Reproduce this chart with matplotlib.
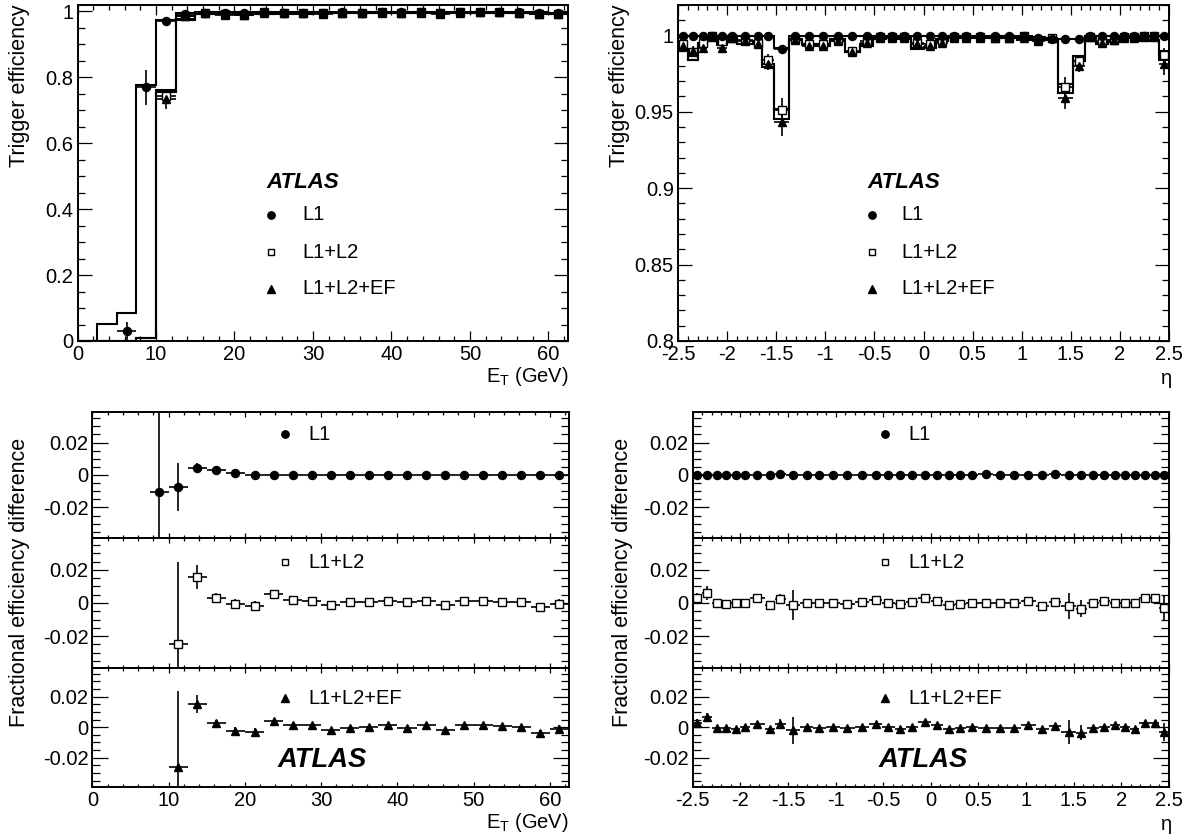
import numpy as np
import matplotlib
matplotlib.use('Agg')
import matplotlib.pyplot as plt
from matplotlib.ticker import MultipleLocator, FuncFormatter
from matplotlib.lines import Line2D

plt.rcParams['font.family'] = ['Liberation Sans', 'DejaVu Sans']
plt.rcParams['axes.unicode_minus'] = False
plt.rcParams['mathtext.fontset'] = 'custom'
plt.rcParams['mathtext.rm'] = 'Liberation Sans'
plt.rcParams['mathtext.it'] = 'Liberation Sans:italic'

# ---------------- data: E_T ----------------
et_edges = [0, 2.5, 5, 7.5, 10, 12.5, 15, 17.5, 20, 22.5, 25, 27.5, 30, 32.5, 35,
            37.5, 40, 42.5, 45, 47.5, 50, 52.5, 55, 57.5, 60, 62.5]
nan = np.nan
et_l1 = [nan, nan, 0.030, 0.769, 0.971, 0.993, 0.996, 0.995, 0.995, 0.997, 0.996, 0.996,
         0.995, 0.997, 0.996, 0.997, 0.997, 0.997, 0.996, 0.997, 0.998, 0.998, 0.997, 0.996, 0.994]
et_l1_err = [nan, nan, 0.027, 0.053, 0.012, 0.004, 0.002, 0.0015, 0.0015, 0.001, 0.001, 0.001,
             0.001, 0.001, 0.001, 0.001, 0.001, 0.001, 0.001, 0.001, 0.001, 0.001, 0.001, 0.0015, 0.002]
et_l12 = [nan, nan, nan, nan, 0.742, 0.987, 0.996, 0.991, 0.990, 0.997, 0.996, 0.996,
          0.994, 0.996, 0.996, 0.997, 0.996, 0.997, 0.994, 0.997, 0.998, 0.998, 0.996, 0.993, 0.992]
et_l12_err = [nan, nan, nan, nan, 0.02, 0.006, 0.003, 0.003, 0.003, 0.0015, 0.0015, 0.0015,
              0.0015, 0.0015, 0.0015, 0.0015, 0.0015, 0.0015, 0.0015, 0.0015, 0.0015, 0.0015, 0.0015, 0.002, 0.003]
et_ef = [nan, nan, nan, nan, 0.733, 0.985, 0.995, 0.989, 0.988, 0.996, 0.995, 0.995,
         0.993, 0.995, 0.996, 0.996, 0.995, 0.996, 0.993, 0.996, 0.997, 0.997, 0.995, 0.992, 0.991]
et_ef_err = [nan, nan, nan, nan, 0.03, 0.006, 0.003, 0.003, 0.003, 0.0015, 0.0015, 0.0015,
             0.0015, 0.0015, 0.0015, 0.0015, 0.0015, 0.0015, 0.0015, 0.0015, 0.0015, 0.0015, 0.0015, 0.002, 0.003]
et_mc_l1 = [0, 0.052, 0.084, 0.776, 0.975, 0.994, 0.997, 0.997, 0.997, 0.997, 0.997, 0.997,
            0.997, 0.997, 0.997, 0.997, 0.997, 0.997, 0.997, 0.997, 0.998, 0.998, 0.997, 0.997, 0.996]
et_mc_l12 = [0, 0, 0, 0.008, 0.760, 0.978, 0.993, 0.992, 0.992, 0.992, 0.994, 0.994,
             0.995, 0.995, 0.995, 0.995, 0.995, 0.995, 0.995, 0.995, 0.996, 0.996, 0.995, 0.995, 0.992]
et_mc_ef = [0, 0, 0, 0.008, 0.755, 0.975, 0.992, 0.991, 0.991, 0.992, 0.993, 0.993,
            0.995, 0.995, 0.995, 0.994, 0.995, 0.994, 0.995, 0.994, 0.995, 0.996, 0.995, 0.995, 0.992]

et_d_l1 = [nan, nan, nan, -0.0106, -0.0073, 0.0043, 0.0028, 0.001, 0, 0, 0, 0,
           0, 0, 0, 0, 0, 0, 0, 0, 0, 0, 0, 0, 0]
et_d_l1_err = [nan, nan, nan, 0.06, 0.0147, 0.003, 0.0012, 0.001, 0.0005, 0.0005, 0.0005, 0.0005,
               0.0005, 0.0005, 0.0005, 0.0005, 0.0005, 0.0005, 0.0005, 0.0005, 0.0005, 0.0005, 0.0005, 0.0005, 0.0005]
et_d_l12 = [nan, nan, nan, nan, -0.0245, 0.0157, 0.0033, -0.0008, -0.002, 0.0053, 0.0016, 0.0014,
            -0.0012, 0.0004, 0.0006, 0.001, 0.0004, 0.0014, -0.0012, 0.0012, 0.0012, 0.0008, 0.0004, -0.0022, -0.0004]
et_d_l12_err = [nan, nan, nan, nan, 0.049, 0.007, 0.003, 0.003, 0.003, 0.0015, 0.001, 0.001,
                0.001, 0.001, 0.001, 0.001, 0.001, 0.001, 0.001, 0.001, 0.001, 0.001, 0.001, 0.002, 0.003]
et_d_ef = [nan, nan, nan, nan, -0.026, 0.0152, 0.0028, -0.0022, -0.0033, 0.0043, 0.0017, 0.0015,
           -0.002, -0.0004, 0.0004, 0.0015, -0.0004, 0.0015, -0.0017, 0.0013, 0.0013, 0.0007, 0.0002, -0.0037, -0.0009]
et_d_ef_err = [nan, nan, nan, nan, 0.050, 0.006, 0.002, 0.0025, 0.0025, 0.001, 0.001, 0.001,
               0.001, 0.001, 0.001, 0.001, 0.001, 0.001, 0.001, 0.001, 0.001, 0.001, 0.001, 0.002, 0.0025]

# ---------------- data: eta ----------------
eta_edges = [-2.5, -2.4, -2.3, -2.2, -2.1, -2.0, -1.9, -1.74, -1.64, -1.52, -1.37, -1.24, -1.1,
             -0.95, -0.8, -0.65, -0.51, -0.38, -0.26, -0.13, 0.0, 0.13, 0.25, 0.37, 0.5, 0.65,
             0.8, 0.95, 1.1, 1.24, 1.37, 1.52, 1.64, 1.76, 1.88, 1.99, 2.09, 2.19, 2.3, 2.4, 2.5]
eta_l1 = [0.9998] * 9 + [0.991] + [0.9998] * 18 + [0.9985, 0.9978, 0.9975, 0.9975] + [0.9998] * 8
eta_l1_err = [0.001] + [0.0005] * 8 + [0.0022] + [0.0005] * 29 + [0.001]
eta_l12 = [0.994, 0.989, 0.995, 0.9995, 0.996, 0.9985, 0.997, 0.995, 0.984, 0.951,
           0.9975, 0.994, 0.994, 0.997, 0.990, 0.996, 0.999, 0.999, 0.999, 0.995,
           0.994, 0.996, 0.999, 0.999, 0.999, 0.998, 0.9985, 0.9995, 0.997, 0.998,
           0.966, 0.983, 0.999, 0.996, 0.997, 0.999, 0.999, 0.9995, 0.9995, 0.987]
eta_ef = [0.993, 0.990, 0.992, 0.999, 0.992, 0.998, 0.996, 0.994, 0.981, 0.943,
          0.997, 0.993, 0.993, 0.996, 0.989, 0.995, 0.998, 0.998, 0.998, 0.994,
          0.993, 0.995, 0.998, 0.998, 0.998, 0.998, 0.998, 0.998, 0.996, 0.998,
          0.959, 0.980, 0.999, 0.995, 0.997, 0.998, 0.998, 0.999, 0.999, 0.981]
eta_l12_err = [0.002, 0.003, 0.0015, 0.001, 0.0015, 0.001, 0.002, 0.0015, 0.004, 0.008,
               0.001, 0.001, 0.001, 0.001, 0.001, 0.001, 0.001, 0.001, 0.001, 0.001,
               0.001, 0.001, 0.001, 0.001, 0.001, 0.001, 0.001, 0.001, 0.001, 0.001,
               0.007, 0.004, 0.001, 0.0015, 0.001, 0.001, 0.001, 0.001, 0.001, 0.005]
eta_ef_err = [0.002, 0.003, 0.0015, 0.001, 0.0015, 0.001, 0.002, 0.0015, 0.004, 0.009,
              0.001, 0.001, 0.001, 0.001, 0.001, 0.001, 0.001, 0.001, 0.001, 0.001,
              0.001, 0.001, 0.001, 0.001, 0.001, 0.001, 0.001, 0.001, 0.001, 0.001,
              0.007, 0.004, 0.001, 0.0015, 0.001, 0.001, 0.001, 0.001, 0.001, 0.007]
eta_mc_l1 = [0.9998] * 9 + [0.9915] + [0.9998] * 18 + [0.9985, 0.9978, 0.9975, 0.9975] + [0.9998] * 8
eta_mc_l12 = [0.991, 0.984, 0.995, 0.9998, 0.996, 0.9985, 0.994, 0.9965, 0.9815, 0.952,
              0.9977, 0.994, 0.994, 0.9978, 0.9892, 0.9941, 0.9988, 0.9996, 0.9986, 0.9918,
              0.9925, 0.9975, 0.9996, 0.999, 0.999, 0.998, 0.9985, 0.998, 0.9989, 0.9972,
              0.968, 0.9863, 0.9992, 0.995, 0.997, 0.999, 0.999, 0.997, 0.997, 0.990]
eta_mc_ef = [0.990, 0.984, 0.993, 0.9995, 0.9935, 0.998, 0.994, 0.9955, 0.979, 0.945,
             0.9966, 0.9934, 0.993, 0.9964, 0.989, 0.9932, 0.9978, 0.9989, 0.9976, 0.9907,
             0.9917, 0.9961, 0.9987, 0.998, 0.9982, 0.9982, 0.9982, 0.9967, 0.9973, 0.9969,
             0.962, 0.9834, 0.9992, 0.9946, 0.9955, 0.998, 0.999, 0.996, 0.996, 0.984]

eta_d_l1 = [0] * 8 + [0.0008, 0.0002] + [0] * 14 + [0.0007] + [0] * 4 + [0.0008] + [0] * 10
eta_d_l1_err = [0.002] + [0.0008] * 8 + [0.0025] + [0.0008] * 29 + [0.002]
eta_d_l12 = [0.003, 0.006, 0.0, -0.0006, 0.0, 0.0, 0.003, -0.0013, 0.0025, -0.0013,
             -0.0002, 0.0, 0.0, -0.0008, 0.0008, 0.0019, 0.0002, -0.0006, 0.0004, 0.0032,
             0.0015, -0.0015, -0.0006, 0.0, 0.0, 0.0, 0.0, 0.0015, -0.0019, 0.0008,
             -0.0019, -0.0034, -0.0002, 0.001, 0.0, 0.0, 0.0, 0.003, 0.003, -0.003]
eta_d_l12_err = [0.003, 0.004, 0.0012, 0.001, 0.001, 0.001, 0.0012, 0.0012, 0.003, 0.009,
                 0.001, 0.001, 0.001, 0.001, 0.001, 0.001, 0.001, 0.001, 0.001, 0.001,
                 0.001, 0.001, 0.001, 0.001, 0.001, 0.001, 0.001, 0.001, 0.001, 0.001,
                 0.008, 0.005, 0.001, 0.001, 0.001, 0.001, 0.001, 0.0012, 0.0012, 0.007]
eta_d_ef = [0.0026, 0.0066, -0.0007, -0.0007, -0.0015, 0.0002, 0.0018, -0.0013, 0.0022, -0.002,
            0.0004, -0.0004, 0.0, -0.0004, 0.0, 0.0018, 0.0002, -0.0009, 0.0004, 0.0033,
            0.0013, -0.0011, -0.0007, 0.0, -0.0002, -0.0002, -0.0002, 0.0013, -0.0013, 0.0011,
            -0.0031, -0.0035, -0.0002, 0.0004, 0.0015, 0.0, -0.001, 0.003, 0.003, -0.003]
eta_d_ef_err = [0.003, 0.003, 0.0012, 0.001, 0.001, 0.001, 0.0012, 0.0012, 0.003, 0.009,
                0.001, 0.001, 0.001, 0.001, 0.001, 0.001, 0.001, 0.001, 0.001, 0.001,
                0.001, 0.001, 0.001, 0.001, 0.001, 0.001, 0.001, 0.001, 0.001, 0.001,
                0.008, 0.005, 0.001, 0.001, 0.001, 0.001, 0.001, 0.0012, 0.0012, 0.006]

labels = ['L1', 'L1+L2', 'L1+L2+EF']

# ---------------- figure ----------------
W, H = 1195, 835
fig = plt.figure(figsize=(W / 100, H / 100), dpi=100)


def ax_px(l, t, r, b):
    return fig.add_axes([l / W, 1 - b / H, (r - l) / W, (b - t) / H])


def fmt(v, pos):
    v = round(v, 6)
    if abs(v) < 1e-9:
        return '0'
    return ('%g' % v)


FS = 14.5      # tick labels / legend
FT = 15.5      # axis titles


def style(ax, xmaj, xmin, ymaj, ymin, ylen, xlen, xlabels=True):
    ax.xaxis.set_major_locator(MultipleLocator(xmaj))
    ax.xaxis.set_minor_locator(MultipleLocator(xmin))
    ax.yaxis.set_major_locator(MultipleLocator(ymaj))
    ax.yaxis.set_minor_locator(MultipleLocator(ymin))
    ax.xaxis.set_major_formatter(FuncFormatter(fmt))
    ax.yaxis.set_major_formatter(FuncFormatter(fmt))
    ax.tick_params(which='both', direction='in', top=True, right=True, width=0.9,
                   labelsize=FS, pad=3)
    ax.tick_params(axis='y', which='major', length=ylen[0])
    ax.tick_params(axis='y', which='minor', length=ylen[1])
    ax.tick_params(axis='x', which='major', length=xlen[0])
    ax.tick_params(axis='x', which='minor', length=xlen[1])
    if not xlabels:
        ax.tick_params(axis='x', labelbottom=False)
    for s in ax.spines.values():
        s.set_linewidth(1.4)


def draw_points(ax, edges, y, err, kind, ms=None):
    e = np.asarray(edges, float)
    c = 0.5 * (e[1:] + e[:-1])
    hw = 0.5 * (e[1:] - e[:-1])
    y = np.asarray(y, float)
    err = np.asarray(err, float)
    m = ~np.isnan(y)
    if kind == 'o':
        kw = dict(fmt='o', ms=ms or 5.8, mfc='k', mec='k')
    elif kind == 's':
        kw = dict(fmt='s', ms=ms or 5.2, mfc='white', mec='k', mew=1.0)
    else:
        kw = dict(fmt='^', ms=ms or 5.8, mfc='k', mec='k')
    ax.errorbar(c[m], y[m], xerr=hw[m], yerr=err[m], color='k', elinewidth=1.2,
                capsize=0, zorder=3, **kw)


# ---------- top-left: E_T ----------
ax1 = ax_px(77.5, 4.7, 568, 341)
for mc in (et_mc_l1, et_mc_l12, et_mc_ef):
    ax1.stairs(mc, et_edges, color='k', lw=1.5, baseline=None, zorder=2)
draw_points(ax1, et_edges, et_l12, et_l12_err, 's')
draw_points(ax1, et_edges, et_ef, et_ef_err, '^')
draw_points(ax1, et_edges, et_l1, et_l1_err, 'o')
ax1.set_xlim(0, 62.5)
ax1.set_ylim(0, 1.02)
style(ax1, 10, 2, 0.2, 0.05, (10, 5), (7, 3.6))

# ---------- top-right: eta ----------
ax2 = ax_px(678, 4.7, 1169, 341)
for mc in (eta_mc_l1, eta_mc_l12, eta_mc_ef):
    ax2.stairs(mc, eta_edges, color='k', lw=1.5, baseline=None, zorder=2)
draw_points(ax2, eta_edges, eta_l12, eta_l12_err, 's')
draw_points(ax2, eta_edges, eta_ef, eta_ef_err, '^')
draw_points(ax2, eta_edges, eta_l1, eta_l1_err, 'o')
ax2.set_xlim(-2.5, 2.5)
ax2.set_ylim(0.8, 1.02)
style(ax2, 0.5, 0.1, 0.05, 0.01, (10, 5), (7, 3.6))

# ---------- bottom panels ----------
rows = [(411.7, 538.3), (538.3, 667.7), (667.7, 786.7)]
et_diffs = [(et_d_l1, et_d_l1_err, 'o'), (et_d_l12, et_d_l12_err, 's'), (et_d_ef, et_d_ef_err, '^')]
eta_diffs = [(eta_d_l1, eta_d_l1_err, 'o'), (eta_d_l12, eta_d_l12_err, 's'), (eta_d_ef, eta_d_ef_err, '^')]

for i, (t, b) in enumerate(rows):
    axl = ax_px(92.5, t, 569, b)
    d, de, k = et_diffs[i]
    draw_points(axl, et_edges, d, de, k)
    axl.set_xlim(0, 62.5)
    axl.set_ylim(-0.039, 0.039)
    style(axl, 10, 2, 0.02, 0.005, (11.5, 5.8), (3.6, 2), xlabels=(i == 2))

    axr = ax_px(692.7, t, 1169, b)
    d, de, k = eta_diffs[i]
    draw_points(axr, eta_edges, d, de, k)
    axr.set_xlim(-2.5, 2.5)
    axr.set_ylim(-0.039, 0.039)
    style(axr, 0.5, 0.1, 0.02, 0.005, (11.5, 5.8), (3.6, 2), xlabels=(i == 2))


# ---------- legends / texts ----------
def fx(x):
    return x / W


def fy(y):
    return 1 - y / H


def marker(x, y, kind, ms):
    if kind == 'o':
        ln = Line2D([fx(x)], [fy(y)], marker='o', ms=ms, mfc='k', mec='k', ls='none',
                    transform=fig.transFigure)
    elif kind == 's':
        ln = Line2D([fx(x)], [fy(y)], marker='s', ms=ms - 0.6, mfc='white', mec='k', mew=1.0,
                    ls='none', transform=fig.transFigure)
    else:
        ln = Line2D([fx(x)], [fy(y)], marker='^', ms=ms, mfc='k', mec='k', ls='none',
                    transform=fig.transFigure)
    fig.add_artist(ln)


kinds = ['o', 's', '^']
leg_y = [215, 252, 289]
for (mx, tx, ax_x) in [(271, 302, 266.7), (872, 901, 867.5)]:
    fig.text(fx(ax_x), fy(182), 'ATLAS', fontsize=16, fontweight='bold', fontstyle='italic',
             ha='left', va='center')
    for k, lab, yy in zip(kinds, labels, leg_y):
        marker(mx, yy, k, 5.3)
        fig.text(fx(tx), fy(yy), lab, fontsize=FS, ha='left', va='center')

bot_y = [434, 562, 698]
for (mx, tx, axx) in [(285, 308, 278), (885, 908, 879)]:
    for k, lab, yy in zip(kinds, labels, bot_y):
        marker(mx, yy, k, 5.3)
        fig.text(fx(tx), fy(yy), lab, fontsize=FS, ha='left', va='center')
    fig.text(fx(axx), fy(760), 'ATLAS', fontsize=19.7, fontweight='bold', fontstyle='italic',
             ha='left', va='center')

# axis titles
fig.text(fx(20), fy(4.7), 'Trigger efficiency', rotation=90, fontsize=FT, ha='center', va='top')
fig.text(fx(620), fy(4.7), 'Trigger efficiency', rotation=90, fontsize=FT, ha='center', va='top')
fig.text(fx(20), fy(582), 'Fractional efficiency difference', rotation=90, fontsize=FT,
         ha='center', va='center')
fig.text(fx(623), fy(582), 'Fractional efficiency difference', rotation=90, fontsize=FT,
         ha='center', va='center')
fig.text(fx(569), fy(376), r'E$_\mathregular{T}$ (GeV)', fontsize=FS, ha='right', va='center')
fig.text(fx(569), fy(822), r'E$_\mathregular{T}$ (GeV)', fontsize=FS, ha='right', va='center')
fig.text(fx(1172), fy(379), 'η', fontsize=FS, ha='right', va='center')
fig.text(fx(1172), fy(824), 'η', fontsize=FS, ha='right', va='center')

fig.savefig('out.png', dpi=100)
